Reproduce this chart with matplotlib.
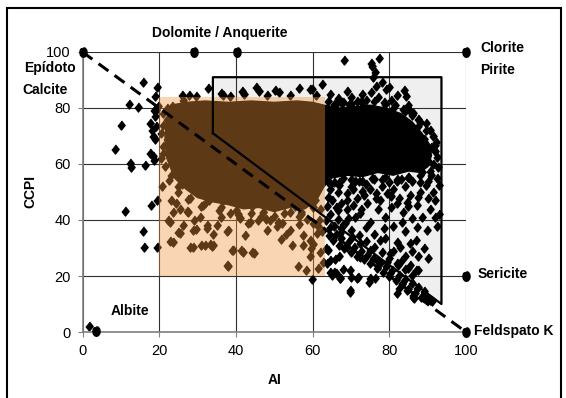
import matplotlib
matplotlib.use("Agg")
import matplotlib.pyplot as plt
from matplotlib.patches import Rectangle, Polygon

plt.rcParams['font.family'] = ['Liberation Sans', 'DejaVu Sans']

# end members of the box plot (AI, CCPI)
end_ai = [0, 29.2, 40.2, 100, 100, 100, 3.4]
end_ccpi = [100, 100, 100, 100, 20, 0, 0.5]

# dense core of the sample cloud (outline)
cloud_ai = [23, 27, 32, 38, 44, 50, 56, 60, 63, 67, 71, 75, 79, 83, 86, 88.5, 90.5, 91,
            90, 88, 85, 81, 77, 73, 69, 65, 63, 61, 58, 54, 50, 46, 42, 38, 34, 30, 27, 24,
            22, 21.5, 22]
cloud_ccpi = [81, 82, 82.5, 82, 82.5, 82, 82.5, 82, 81, 80, 80.5, 81, 80, 78, 75, 71, 67, 63,
              59, 57, 57.5, 56, 57, 55.5, 56, 55, 52, 47, 44, 44.5, 43, 44.5, 44, 45.5, 46.5,
              48, 51, 55, 62, 70, 76]

# samples on the rim of the dense core
rim_ai = [64, 66, 68, 70, 73, 76, 79, 81, 84, 86, 88, 89.5, 91, 91.5, 90.5, 88, 85, 82, 79,
          76, 73, 70, 67, 64.5, 60, 57, 54, 50, 47, 44, 40, 36, 32, 28, 25, 23, 21, 21, 22]
rim_ccpi = [82.5, 81.5, 82, 81.5, 82, 82.5, 81.5, 80, 79, 77.5, 75, 72, 66, 60, 57.5, 56,
            55.5, 54.5, 55.5, 54.5, 54, 54.5, 53.5, 53, 44.5, 43, 43, 41.5, 43, 42.5, 43.5,
            44.5, 46, 48, 52, 56, 64, 74, 80]

# samples outside the left edge of the box
left_ai = [19.3, 15.9, 18.9, 12.1, 14.5, 10.0, 8.5, 12.3, 12.7, 16.3, 11.1, 15.7, 16.0, 19.3,
           17.9, 19.4, 17.7, 18.2, 18.7, 19.0, 18.5, 19.2, 17.7, 18.3, 18.7, 19.0, 19.2, 19.6, 1.6]
left_ccpi = [87.4, 89.3, 84.3, 81.4, 80.4, 73.8, 65.4, 60.5, 58.8, 59.5, 43.3, 36.0, 30.4, 30.4,
             45.5, 47.0, 74.6, 72.3, 79.4, 77.0, 69.9, 73.5, 63.9, 62.7, 61.5, 68.8, 79.4, 80.6, 2.1]

# samples along the top of the cloud
top_ai = [25.9, 27.8, 29.5, 32.8, 36.1, 36.7, 38.5, 41.7, 42.2, 45.2, 45.9, 48.0, 50.2, 51.2,
          54.0, 56.5, 59.3, 59.8, 62.5, 61.0, 64.5, 66.7, 68.9, 70.0, 71.5, 73.0, 74.0, 75.1,
          75.8, 78.0, 79.1, 77.0, 80.5, 82.0, 83.8, 84.4, 86.3, 85.0, 87.5, 89.5, 90.5, 91.5,
          92.0, 92.4, 92.8, 91.0, 93.0, 90.0, 88.0, 76.5, 80.0, 68.3, 75.1, 75.6, 77.4, 76.2,
          65.5, 67.5, 69.5, 72.5, 78.5, 81.5, 83.5, 85.5, 87.5, 89.0, 90.0, 91.8, 92.2]
top_ccpi = [84.5, 84.5, 84.2, 87.3, 85.5, 84.6, 84.3, 86.0, 85.0, 87.6, 86.0, 84.5, 86.4, 85.8,
            84.5, 87.3, 86.7, 86.7, 88.6, 84.8, 84.9, 83.5, 86.0, 84.0, 82.5, 85.0, 83.0, 85.8,
            91.2, 89.4, 86.8, 84.0, 83.0, 84.5, 86.4, 84.3, 78.1, 81.0, 76.0, 74.5, 72.0, 70.0,
            66.7, 62.6, 59.0, 56.0, 52.5, 54.0, 53.5, 88.0, 87.5, 97.1, 96.0, 95.0, 98.0, 93.0,
            81.5, 82.0, 81.5, 82.5, 82.0, 81.0, 79.5, 79.0, 73.5, 69.0, 61.0, 64.5, 68.0]

# samples in the left and lower part of the orange box
box_ai = [20.6, 22.5, 21.5, 23.4, 21.0, 24.3, 22.5, 21.0, 23.4, 26.2, 25.3, 28.1, 27.2, 30.0,
          34.7, 27.2, 20.5, 22.0, 24.0, 25.0, 23.0, 26.0, 20.5, 22.0, 29.0, 31.0, 26.0, 24.5,
          23.7, 25.4, 22.8, 26.3, 28.9, 28.7, 31.9, 33.7, 34.1, 32.4, 35.0, 37.8, 39.3, 41.9,
          44.8, 38.0, 43.7, 45.8, 48.9, 51.0, 27.6, 23.7, 30.6, 38.5, 41.1, 56.1, 58.3, 59.4,
          59.7, 59.2, 57.4, 54.5, 51.7, 54.1, 50.8, 61.1, 61.6, 56.4, 47.9, 43.2, 39.1, 41.3,
          44.2, 37.6, 30.9, 33.3, 28.1, 22.9, 25.0, 29.5, 32.4, 38.0, 22.2, 27.2, 24.3, 30.9,
          36.6, 44.2, 49.8, 55.5, 59.7, 61.1, 60.0, 58.5, 61.5, 62.5, 57.0, 62.0, 60.5, 55.0,
          50.0, 45.0, 38.0, 33.0, 62.8, 62.0, 61.3, 60.2, 35.5, 40.5, 46.5, 52.5, 56.5, 53.0,
          48.0, 42.5, 36.0, 31.5, 27.5, 25.5, 57.5, 52.0, 47.0, 34.0, 29.0]
box_ccpi = [52.0, 54.4, 59.2, 62.7, 66.3, 68.7, 73.5, 78.2, 80.6, 83.0, 77.0, 72.3, 65.1, 59.2,
            54.4, 56.8, 71.0, 76.0, 58.0, 50.0, 47.0, 61.0, 62.0, 69.0, 52.0, 50.5, 53.0, 65.0,
            32.3, 35.3, 39.4, 38.2, 36.4, 30.2, 31.1, 30.7, 31.2, 37.0, 38.2, 36.2, 29.3, 28.7,
            28.3, 23.6, 39.4, 40.0, 40.0, 39.4, 43.0, 43.0, 41.2, 42.4, 40.6, 23.5, 22.3, 27.0,
            30.0, 33.0, 31.2, 31.2, 33.2, 36.5, 37.7, 35.4, 40.1, 41.3, 40.4, 38.9, 29.4, 29.2,
            28.6, 24.0, 31.2, 31.4, 30.4, 32.4, 35.6, 36.8, 38.3, 36.5, 40.1, 43.1, 46.1, 44.9,
            47.3, 44.9, 45.5, 44.9, 46.1, 52.0, 39.0, 40.5, 38.0, 36.0, 42.0, 44.0, 47.0, 48.0,
            47.5, 47.0, 48.0, 47.0, 25.0, 28.5, 23.0, 31.5, 43.5, 42.0, 41.5, 42.5, 38.5, 35.0,
            36.5, 34.5, 41.0, 45.5, 47.5, 44.0, 34.5, 39.0, 43.0, 35.0, 40.0]

# samples below the cloud on the right (grey field)
right_ai = [64.1, 66.7, 68.9, 74.1, 77.6, 81.9, 87.1, 87.5, 66.7, 69.3, 72.4, 75.0, 78.9, 83.2,
            85.8, 87.1, 89.8, 64.5, 67.1, 70.2, 77.6, 82.8, 85.4, 63.5, 64.5, 65.5, 66.5, 67.5,
            68.5, 63.8, 65.0, 66.0, 67.5, 69.0, 70.5, 71.5, 72.5, 73.5, 75.0, 76.5, 78.0, 79.5,
            81.0, 82.5, 84.0, 85.5, 86.0, 80.0, 74.0, 70.0, 67.0, 64.5, 77.0, 80.5, 83.5, 71.0,
            74.0, 76.0, 78.5, 81.0, 84.0, 87.0, 79.0, 82.0, 86.0, 84.0, 87.5, 89.0, 90.5, 92.0,
            91.5, 93.0, 92.5, 90.1, 92.0, 88.5, 88.0, 90.0, 92.5, 71.0, 73.0, 83.0, 85.0, 69.0,
            65.5, 68.0, 72.0, 75.5, 78.0, 82.0, 85.0, 88.5, 64.0, 70.5, 76.5, 80.5, 84.5, 89.5]
right_ccpi = [48.3, 50.0, 47.1, 46.0, 47.1, 46.0, 45.4, 48.3, 43.6, 40.6, 42.4, 39.4, 41.2, 39.4,
              40.6, 37.6, 36.4, 37.6, 35.3, 34.0, 32.9, 30.5, 31.7, 40.0, 42.0, 38.0, 40.5, 37.0,
              39.0, 45.0, 47.0, 44.5, 46.0, 44.0, 45.5, 48.0, 44.0, 49.0, 51.0, 48.0, 52.0, 49.5,
              51.0, 48.0, 52.0, 49.0, 54.0, 53.5, 53.0, 52.0, 52.5, 51.0, 44.0, 44.5, 43.0, 41.0,
              37.5, 35.0, 37.0, 38.0, 36.0, 33.0, 33.5, 32.0, 29.0, 27.0, 27.0, 30.0, 44.0, 47.0,
              50.0, 42.0, 38.0, 26.4, 41.0, 41.0, 50.0, 48.0, 55.0, 54.0, 50.5, 54.5, 45.0, 49.5,
              53.5, 55.0, 54.0, 55.0, 54.5, 54.0, 55.5, 57.0, 54.0, 51.0, 49.5, 48.5, 46.5, 52.5]

# samples along the AI = 100 - CCPI trend and below the box
trend_ai = [64.3, 65.2, 66.0, 66.8, 67.5, 68.3, 69.2, 70.0, 70.8, 71.7, 72.5, 73.3, 74.2, 75.0,
            75.8, 76.7, 77.5, 78.3, 79.2, 80.0, 80.8, 81.7, 82.5, 83.3, 84.2, 85.0, 85.8, 86.7,
            87.5, 88.3, 89.0, 89.8, 90.5, 86.0, 84.0, 82.0, 80.0, 78.0, 76.0, 74.0, 72.0, 70.0,
            68.0, 85.5, 87.0, 83.0, 81.0, 65.8, 66.0, 65.0, 68.0, 63.5, 63.7, 67.0, 68.9, 72.4,
            75.0, 80.2, 85.0, 82.3, 79.3, 76.7, 72.4, 69.8, 64.5, 64.1, 67.1, 69.8, 71.5, 75.0,
            80.2, 83.2, 84.5, 86.3, 88.9, 87.1, 87.6, 59.9, 82.5, 81.9, 86.3, 86.5, 89.8, 91.1,
            69.8, 67.1, 69.9, 71.8, 74.7, 76.2, 64.5, 65.5]
trend_ccpi = [34.5, 33.0, 35.0, 31.0, 33.5, 30.0, 32.0, 28.5, 30.5, 27.0, 29.0, 26.0, 27.5, 24.5,
              26.5, 23.0, 24.5, 21.5, 23.5, 20.0, 22.0, 18.5, 20.5, 17.0, 19.0, 15.5, 17.5, 14.0,
              16.0, 12.5, 14.5, 12.5, 11.5, 20.5, 22.5, 24.5, 26.5, 28.5, 30.5, 32.5, 34.5, 36.5,
              38.5, 24.0, 22.0, 25.5, 29.0, 26.0, 21.0, 20.5, 22.5, 30.0, 24.5, 27.0, 30.5, 31.7,
              29.3, 28.1, 22.7, 23.9, 25.1, 25.7, 26.9, 22.1, 25.7, 29.3, 19.2, 15.0, 19.2, 19.2,
              21.0, 17.4, 15.0, 12.6, 12.6, 15.6, 22.1, 19.0, 15.6, 13.8, 13.2, 12.0, 11.4, 11.0,
              14.4, 19.2, 19.6, 19.6, 18.0, 19.2, 21.5, 21.5]

# grey field (solid outline) and orange box
grey_ai = [34, 34, 93.6, 93.6]
grey_ccpi = [71, 91, 91, 10]
box_x = [20, 63.2]
box_y = [20, 84]

sample_ai = rim_ai + left_ai + top_ai + box_ai + right_ai + trend_ai
sample_ccpi = rim_ccpi + left_ccpi + top_ccpi + box_ccpi + right_ccpi + trend_ccpi

fig = plt.figure(figsize=(5.66, 3.98), dpi=100)
ax = fig.add_axes([82.5 / 566, 66 / 398, 383.5 / 566, 280 / 398])

ax.add_patch(Polygon(list(zip(grey_ai, grey_ccpi)), closed=True, facecolor='#efefef',
                     edgecolor='none', zorder=0.5))
ax.plot(grey_ai + [grey_ai[0]], grey_ccpi + [grey_ccpi[0]], color='black', lw=1.6, zorder=4)

ax.add_patch(Polygon(list(zip(cloud_ai, cloud_ccpi)), closed=True, facecolor='black',
                     edgecolor='black', lw=1, zorder=2))
diamond = [(0, 1), (0.8, 0), (0, -1), (-0.8, 0)]
ax.plot(sample_ai, sample_ccpi, linestyle='none', marker=diamond, ms=6.5,
        color='black', zorder=2, clip_on=False)

ax.add_patch(Rectangle((box_x[0], box_y[0]), box_x[1] - box_x[0], box_y[1] - box_y[0],
                       facecolor=(0.945, 0.585, 0.23), alpha=0.39, edgecolor='none', zorder=3))

ax.plot([0, 100], [100, 0], color='black', lw=2.2, dashes=(4, 2.5), zorder=4)

ellipse = [(0.75 * x, y) for x, y in
           [(0, 1), (0.5, 0.87), (0.87, 0.5), (1, 0), (0.87, -0.5), (0.5, -0.87),
            (0, -1), (-0.5, -0.87), (-0.87, -0.5), (-1, 0), (-0.87, 0.5), (-0.5, 0.87)]]
ax.plot(end_ai, end_ccpi, linestyle='none', marker=ellipse, ms=7, color='black',
        zorder=5, clip_on=False)

ax.set_xlim(0, 100)
ax.set_ylim(0, 100)
ax.set_xticks(range(0, 101, 20))
ax.set_yticks(range(0, 101, 20))
ax.grid(True, color='#303030', lw=0.8, zorder=1)
ax.set_axisbelow(True)
for s in ['top', 'right']:
    ax.spines[s].set_visible(False)
for s in ['left', 'bottom']:
    ax.spines[s].set_color('#808080')
    ax.spines[s].set_linewidth(1.2)
ax.tick_params(direction='out', length=3.5, width=0.8, color='#808080', labelsize=10.5, pad=5)
ax.set_xlabel('AI', fontsize=10, fontweight='bold', labelpad=11)
ax.set_ylabel('CCPI', fontsize=10, fontweight='bold', labelpad=6)

lab = dict(fontsize=10, fontweight='bold', va='center', clip_on=False)
ax.text(35.7, 106.8, 'Dolomite / Anquerite', ha='center', **lab)
ax.text(103.7, 101.4, 'Clorite', ha='left', **lab)
ax.text(103.7, 93.6, 'Pirite', ha='left', **lab)
ax.text(-15.3, 94.3, 'Epídoto', ha='left', **lab)
ax.text(-15.8, 86.4, 'Calcite', ha='left', **lab)
ax.text(102.9, 20.7, 'Sericite', ha='left', **lab)
ax.text(102.1, 0.4, 'Feldspato K', ha='left', **lab)
ax.text(7.4, 7.5, 'Albite', ha='left', **lab)

fig.patches.append(Rectangle((7 / 566, -0.05), 554 / 566, 1.05 - 8 / 398,
                             transform=fig.transFigure, facecolor='none',
                             edgecolor='black', lw=1.5))

fig.savefig('out.png', dpi=100)
